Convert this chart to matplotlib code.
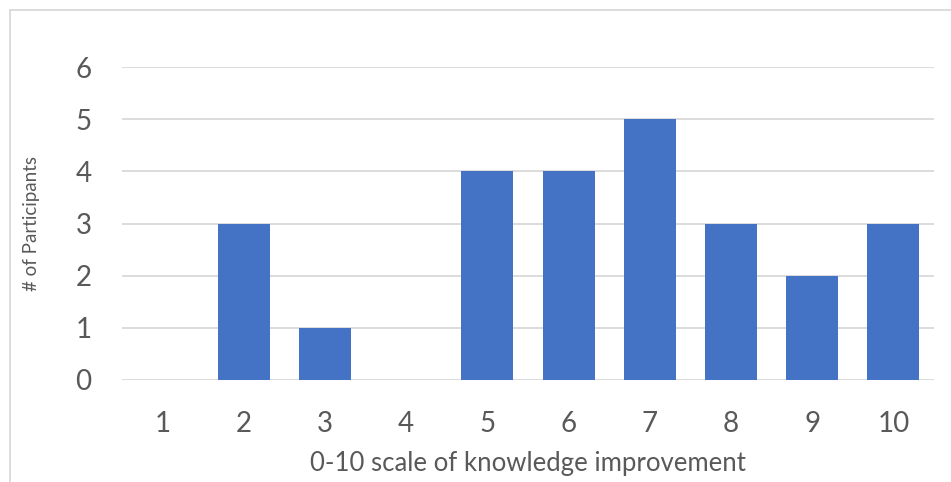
import matplotlib.pyplot as plt
from matplotlib.lines import Line2D

plt.rcParams['font.family'] = ['Lato', 'DejaVu Sans']

scores = ['1', '2', '3', '4', '5', '6', '7', '8', '9', '10']
participants = [0, 3, 1, 0, 4, 4, 5, 3, 2, 3]

fig = plt.figure(figsize=(9.51, 4.82), dpi=100)
ax = fig.add_axes([122/951, 1 - 380/482, 812/951, 313/482])

ax.bar(range(len(scores)), participants, width=0.64, color='#4472C4', zorder=3)

ax.set_xlim(-0.5, len(scores) - 0.5)
ax.set_ylim(0, 6)
ax.set_yticks(range(0, 7))
ax.set_xticks(range(len(scores)))
ax.set_xticklabels(scores)
ax.yaxis.grid(True, color='#d9d9d9', linewidth=1.3, zorder=0)
for s in ax.spines.values():
    s.set_visible(False)
ax.tick_params(length=0, labelsize=20, labelcolor='#595959')
ax.tick_params(axis='x', pad=22)
ax.tick_params(axis='y', pad=22)

ax.set_xlabel('0-10 scale of knowledge improvement', fontsize=18.5, color='#595959')
ax.xaxis.set_label_coords(0.5, -71/313)
ax.set_ylabel('# of Participants', fontsize=13.5, color='#595959')
ax.yaxis.set_label_coords(-82/812, 0.5)

# chart area border (left and top)
fig.add_artist(Line2D([9.5/951, 9.5/951], [0, 1 - 10/482], transform=fig.transFigure, color='#d9d9d9', lw=1.3))
fig.add_artist(Line2D([9.5/951, 1], [1 - 10/482, 1 - 10/482], transform=fig.transFigure, color='#d9d9d9', lw=1.3))

fig.savefig('out.png', dpi=100)
